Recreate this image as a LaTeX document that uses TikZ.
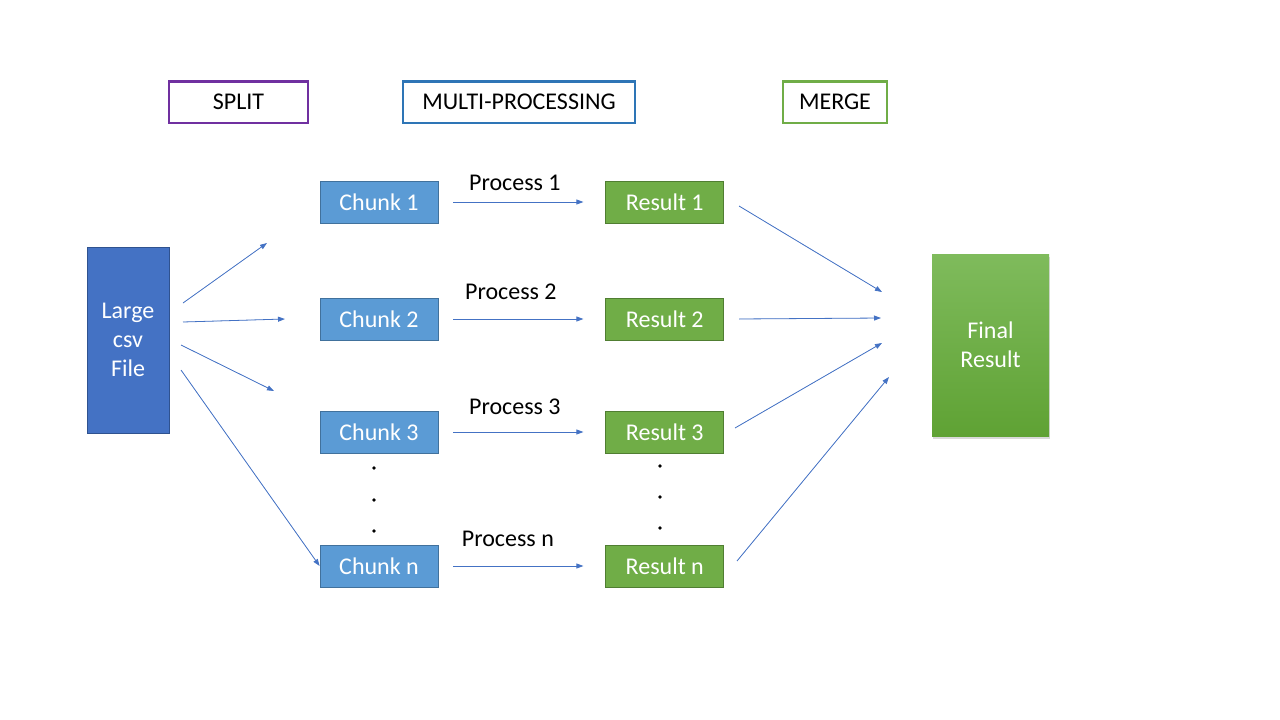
\documentclass[tikz,border=0pt]{standalone}
\usepackage{fontspec}
\setmainfont{Carlito}
\usetikzlibrary{arrows.meta, positioning, shadows}

\definecolor{chunkfill}{HTML}{5B9BD5}
\definecolor{chunkline}{HTML}{41719C}
\definecolor{resultfill}{HTML}{70AD47}
\definecolor{resultline}{HTML}{507E32}
\definecolor{filefill}{HTML}{4472C4}
\definecolor{fileline}{HTML}{2F528F}
\definecolor{arrowblue}{HTML}{4472C4}
\definecolor{splitline}{HTML}{7030A0}
\definecolor{multiline}{HTML}{2E75B6}
\definecolor{finaltop}{HTML}{7FBB5C}
\definecolor{finalbot}{HTML}{5FA234}

\begin{document}
\begin{tikzpicture}[
            x=1pt, y=-1pt,
            node distance=75pt,
            every node/.style={font=\fontsize{24}{29}\selectfont},
            headbox/.style={draw, line width=2.5pt, fill=white, minimum height=41.5pt, inner sep=0pt},
            chunkbox/.style={draw=chunkline, fill=chunkfill, text=white, line width=0.8pt, minimum width=118pt, minimum height=42pt, inner sep=0pt},
            resultbox/.style={draw=resultline, fill=resultfill, text=white, line width=0.8pt, minimum width=118pt, minimum height=42pt, inner sep=0pt},
            filebox/.style={draw=fileline, fill=filefill, text=white, line width=0.8pt, minimum width=82pt, minimum height=186pt, align=center},
            finalbox/.style={top color=finaltop, bottom color=finalbot, text=white, minimum width=117pt, minimum height=182pt, align=center, drop shadow={shadow xshift=1pt, shadow yshift=-2.5pt, opacity=0.3}},
            flow/.style={-{Triangle[length=7pt, width=5pt]}, draw=arrowblue, fill=arrowblue, line width=0.8pt},
            proclabel/.style={text=black, fill=none},
            ]
            \useasboundingbox (0,0) rectangle (1280,720);

            % stage headers
            \node[headbox, draw=splitline, minimum width=139pt] (split) at (238.5,102) {SPLIT};
            \node[headbox, draw=multiline, minimum width=232pt] (multi) at (519,102) {MULTI-PROCESSING};
            \node[headbox, draw=resultfill, minimum width=104pt] (merge) at (835,102) {MERGE};

            \node[filebox] (file) at (128,340) {Large\\csv\\File};

            \node[chunkbox] (c1) at (379,202) {Chunk 1};
            \node[chunkbox] (c2) at (379,319) {Chunk 2};
            \node[chunkbox] (c3) at (379,432) {Chunk 3};
            \node[chunkbox] (cn) at (379,566) {Chunk n};

            \node[resultbox] (r1) [right=167pt of c1] {Result 1};
            \node[resultbox] (r2) [right=167pt of c2] {Result 2};
            \node[resultbox] (r3) [right=167pt of c3] {Result 3};
            \node[resultbox] (rn) [right=167pt of cn] {Result n};

            \node[finalbox] (final) at (990.5,345) {Final\\Result};

            % dots between 3 and n
            \foreach \y in {468,500,531} \fill (374,\y) circle (1.8);
            \foreach \y in {466,497,528} \fill (660,\y) circle (1.8);

            % split arrows
            \coordinate (s1a) at (183,303);  \coordinate (s1b) at (267,243);
            \coordinate (s2a) at (183,322);  \coordinate (s2b) at (285,319);
            \coordinate (s3a) at (181,345);  \coordinate (s3b) at (274,391);
            \coordinate (s4a) at (181,370);
            \draw[flow] (s1a) -- (s1b);
            \draw[flow] (s2a) -- (s2b);
            \draw[flow] (s3a) -- (s3b);
            \draw[flow] (s4a) -- (cn.west);

            % processing arrows
            \draw[flow, shorten <=15pt, shorten >=22pt] (c1) -- node[proclabel, above=8pt, xshift=-7pt] {Process 1} (r1);
            \draw[flow, shorten <=15pt, shorten >=22pt] (c2) -- node[proclabel, above=16pt, xshift=-11pt] {Process 2} (r2);
            \draw[flow, shorten <=15pt, shorten >=22pt] (c3) -- node[proclabel, above=14pt, xshift=-7pt] {Process 3} (r3);
            \draw[flow, shorten <=15pt, shorten >=22pt] (cn) -- node[proclabel, above=16pt, xshift=-14pt] {Process n} (rn);

            % merge arrows
            \coordinate (m1a) at (739,206);  \coordinate (m1b) at (882,292);
            \coordinate (m2a) at (739,319);  \coordinate (m2b) at (881,318);
            \coordinate (m3a) at (735,428);  \coordinate (m3b) at (882,343);
            \coordinate (m4a) at (737,561);  \coordinate (m4b) at (889,377);
            \draw[flow] (m1a) -- (m1b);
            \draw[flow] (m2a) -- (m2b);
            \draw[flow] (m3a) -- (m3b);
            \draw[flow] (m4a) -- (m4b);
        \end{tikzpicture}
\end{document}
